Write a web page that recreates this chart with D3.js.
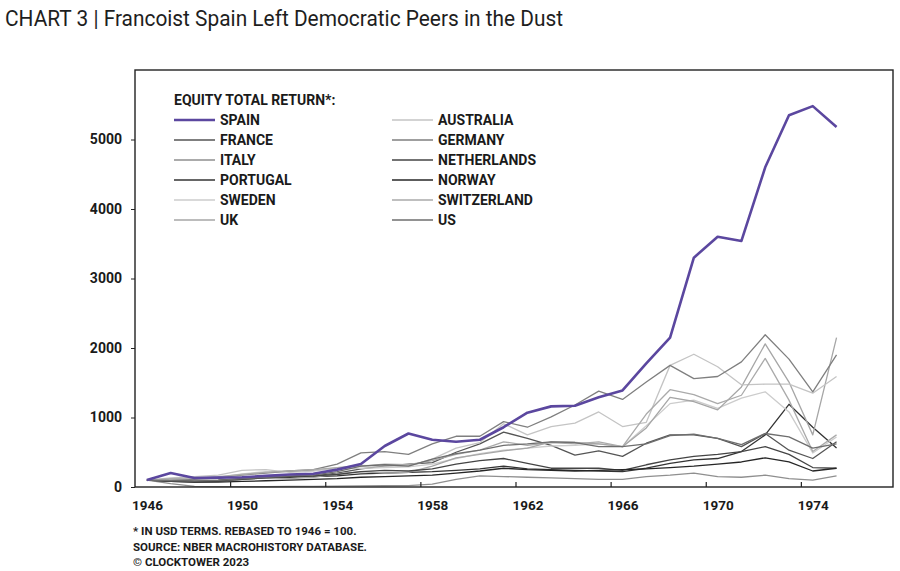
<!DOCTYPE html>
<html><head><meta charset="utf-8">
<script src="https://cdn.jsdelivr.net/npm/d3@7"></script>
<style>
html,body{margin:0;padding:0;background:#fff;}
svg text{font-family:Roboto,"Noto Sans",sans-serif;}
</style></head>
<body>
<svg id="c" width="900" height="571"></svg>
<script>
// ---- data ----
const years = d3.range(1946, 1976);
const spain       = [100,200,130,135,140,160,180,190,250,330,590,770,680,650,680,860,1070,1160,1170,1290,1390,1780,2150,3300,3600,3540,4600,5350,5480,5180];
const germany     = [100,90,110,130,170,200,230,250,330,490,510,470,620,730,730,940,860,1010,1180,1380,1260,1510,1750,1560,1590,1800,2190,1840,1370,1900];
const uk          = [100,110,95,90,110,130,120,140,190,220,200,210,300,420,470,520,560,650,640,620,580,850,1290,1230,1110,1440,2060,1510,750,2150];
const australia   = [100,130,150,170,240,250,210,230,280,310,300,300,400,560,640,910,750,870,920,1080,870,930,1750,1910,1730,1470,1480,1480,1350,1590];
const switzerland = [100,120,130,150,180,210,230,250,280,300,330,320,380,470,530,650,600,640,620,650,580,1050,1400,1330,1200,1320,1850,1250,510,750];
const sweden      = [100,110,120,140,190,220,230,240,260,270,280,290,330,410,480,530,560,590,600,620,580,880,1200,1250,1130,1280,1370,1080,490,720];
const france      = [100,80,70,80,110,140,150,160,200,260,300,330,350,500,620,790,700,600,460,520,440,630,750,750,700,580,770,530,410,650];
const us          = [100,90,85,95,120,140,160,170,220,300,320,300,400,480,530,600,620,650,640,580,580,620,740,760,700,610,770,720,560,620];
const portugal    = [100,100,90,100,120,130,140,150,160,190,200,210,220,240,260,300,260,250,240,230,220,270,340,390,410,510,750,1190,860,560];
const netherlands = [100,90,80,90,110,130,150,160,180,220,240,230,260,330,380,410,340,270,270,270,240,320,390,440,470,510,580,470,280,270];
const norway      = [100,80,70,70,80,90,100,110,120,140,150,160,170,200,230,270,250,240,230,240,250,260,280,300,330,360,420,360,230,270];
const italy       = [100,50,10,5,5,5,8,10,12,15,18,20,40,110,160,150,140,130,120,110,110,150,170,200,150,140,170,120,100,160];

const yTickValues = [0,1000,2000,3000,4000,5000];
const xTickLabels = [1946,1950,1954,1958,1962,1966,1970,1974];

const legendLeft  = [["SPAIN",spain,"#5b479f"],["FRANCE",france,"#555555"],["ITALY",italy,"#8f8f8f"],["PORTUGAL",portugal,"#333333"],["SWEDEN",sweden,"#cccccc"],["UK",uk,"#a6a6a6"]];
const legendRight = [["AUSTRALIA",australia,"#c4c4c4"],["GERMANY",germany,"#7f7f7f"],["NETHERLANDS",netherlands,"#444444"],["NORWAY",norway,"#262626"],["SWITZERLAND",switzerland,"#aaaaaa"],["US",us,"#6e6e6e"]];

// ---- chart ----
const svg = d3.select("#c");
const pL = 135, pR = 893, pT = 70, pB = 487;
const x = d3.scaleLinear().domain([1945.5, 1977.5]).range([pL, 896]);
const y = d3.scaleLinear().domain([0, 6000]).range([pB, pT]);

svg.append("text").attr("x", 5).attr("y", 26)
  .attr("font-size", 22).attr("fill", "#1e1e1e")
  .attr("textLength", 558).attr("lengthAdjust", "spacingAndGlyphs")
  .text("CHART 3 | Francoist Spain Left Democratic Peers in the Dust");

const line = d3.line().x((d,i) => x(years[i])).y(d => y(d));

const greys = [...legendLeft.slice(1), ...legendRight];
const g = svg.append("g");
greys.forEach(([name, vals, col]) => {
  g.append("path").datum(vals).attr("d", line)
    .attr("fill", "none").attr("stroke", col).attr("stroke-width", 1.3)
    .attr("stroke-linejoin", "round");
});
g.append("path").datum(spain).attr("d", line)
  .attr("fill", "none").attr("stroke", "#5b479f").attr("stroke-width", 2.6)
  .attr("stroke-linejoin", "round");

// frame
svg.append("rect").attr("x", pL).attr("y", pT).attr("width", pR-pL).attr("height", pB-pT)
  .attr("fill", "none").attr("stroke", "#222").attr("stroke-width", 1.4);

// y axis
const yAxis = svg.append("g").attr("transform", `translate(${pL},0)`)
  .call(d3.axisLeft(y).tickValues(yTickValues).tickSize(4).tickPadding(9).tickFormat(d3.format("d")));
yAxis.select(".domain").remove();
yAxis.selectAll("text").attr("font-size", 14).attr("font-weight", 700).attr("fill", "#1a1a1a");
yAxis.selectAll("line").attr("stroke", "#222");

// x axis: ticks at category boundaries (inward), labels at category centres
const xAxisTicks = svg.append("g").attr("transform", `translate(0,${pB})`)
  .call(d3.axisBottom(x).tickValues(xTickLabels.slice(1).map(v => v - 0.5)).tickSize(-5).tickFormat(""));
xAxisTicks.select(".domain").remove();
xAxisTicks.selectAll("line").attr("stroke", "#222").attr("stroke-width", 1.2);

const xAxisLabels = svg.append("g").attr("transform", `translate(0,${pB})`)
  .call(d3.axisBottom(x).tickValues(xTickLabels).tickSize(0).tickPadding(13).tickFormat(d3.format("d")));
xAxisLabels.select(".domain").remove();
xAxisLabels.selectAll("text").attr("font-size", 13.5).attr("font-weight", 700).attr("fill", "#1a1a1a");

// legend
svg.append("text").attr("x", 174).attr("y", 105).attr("font-size", 14).attr("font-weight", 700)
  .attr("fill", "#1a1a1a").text("EQUITY TOTAL RETURN*:");
function legendCol(items, x0) {
  items.forEach(([name, vals, col], i) => {
    const yy = 120 + i * 20;
    svg.append("line").attr("x1", x0).attr("x2", x0 + 41).attr("y1", yy).attr("y2", yy)
      .attr("stroke", col).attr("stroke-width", name === "SPAIN" ? 2.6 : 1.3);
    svg.append("text").attr("x", x0 + 46).attr("y", yy + 5).attr("font-size", 14).attr("font-weight", 700)
      .attr("fill", "#1a1a1a").text(name);
  });
}
legendCol(legendLeft, 174);
legendCol(legendRight, 392);

// footnotes
const notes = ["* IN USD TERMS. REBASED TO 1946 = 100.", "SOURCE: NBER MACROHISTORY DATABASE.", "© CLOCKTOWER 2023"];
notes.forEach((t, i) => {
  svg.append("text").attr("x", 133).attr("y", 535 + i * 15.5).attr("font-size", 11.5).attr("font-weight", 700)
    .attr("fill", "#1a1a1a").text(t);
});
</script>
</body></html>
